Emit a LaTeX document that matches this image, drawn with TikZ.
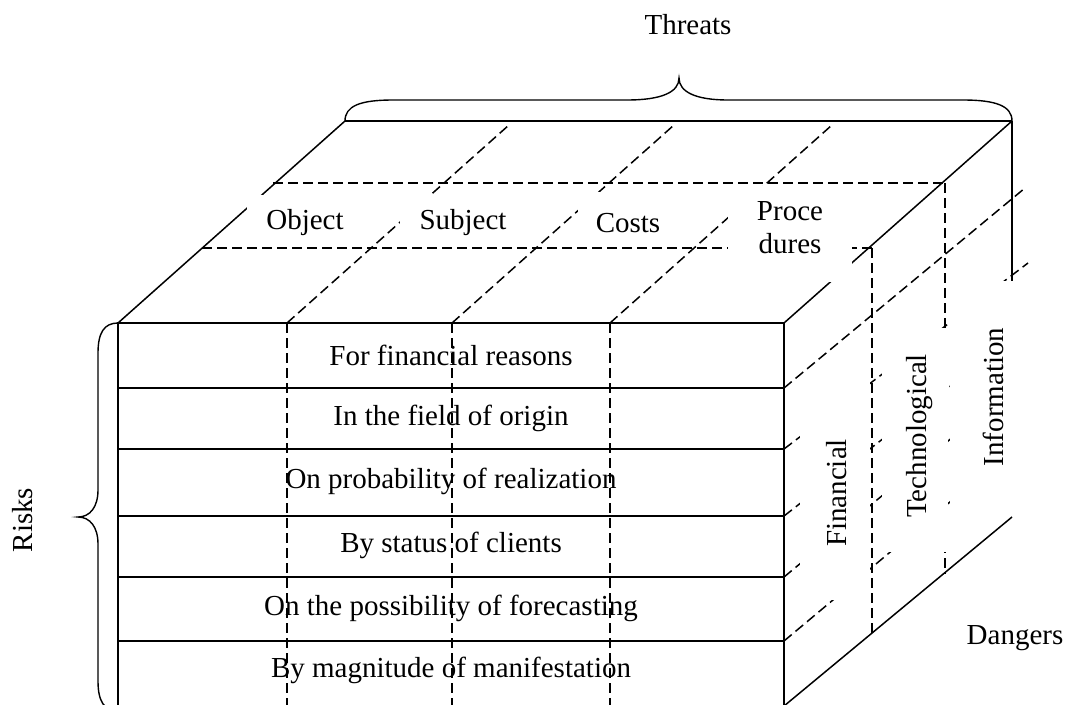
\documentclass[tikz,border=0pt]{standalone}
\usepackage{fontspec}
\setmainfont{Liberation Serif}
\begin{document}
\begin{tikzpicture}[x=1pt,y=-1pt,
  edgeline/.style={line width=1.5pt, line join=miter},
  dashline/.style={line width=1.5pt, dash pattern=on 10pt off 5pt},
  bracepath/.style={line width=1.4pt},
  lbl/.style={font=\fontsize{29}{33}\selectfont, inner sep=0pt, align=center},
  mask/.style={fill=white, draw=none}]
\useasboundingbox (0,0) rectangle (1067,704);
\clip (0,0) rectangle (1067,704);

% corners of the block
\coordinate (FTL) at (118,323);
\coordinate (FTR) at (784,323);
\coordinate (FBL) at (118,712);
\coordinate (FBR) at (784,712);
\coordinate (FBRd) at (784,706);
\coordinate (BTL) at (345,121);
\coordinate (BTR) at (1012,121);
\coordinate (BBR) at (1012,517);

% ---------- lines that are partly hidden by the text boxes ----------
\draw[edgeline] (FTL) -- (BTL);
\draw[edgeline] (FTR) -- (BTR);
% top face: depth lines
\draw[dashline] (287,323) -- (509,125);
\draw[dashline] (452,323) -- (674,125);
\draw[dashline] (610,323) -- (832,125);
% top face: cross lines
\draw[dashline] (202,248) -- (872,248);
\draw[dashline] (273,183) -- (945,183);
% right face: depth lines
\draw[dashline] (784,388) -- (1025,188);
\draw[dashline] (784,449) -- (1028,263);
\draw[dashline] (784,516) -- (1012,338);
\draw[dashline] (784,577) -- (1012,388);
\draw[dashline] (784,641) -- (1012,450);
% right face: vertical lines
\draw[dashline] (945,183) -- (945,574);
\draw[edgeline] (BTR) -- (BBR);

% ---------- white text boxes ----------
\fill[mask] (247,195) rectangle (352,240);
\fill[mask] (400,194) rectangle (515,240);
\fill[mask] (578,192) rectangle (670,240);
\fill[mask] (728,186) rectangle (852,282);
\fill[mask] (800,380) rectangle (870,600);
\fill[mask] (882,328) rectangle (948,552);
\fill[mask] (950,281) rectangle (1045,560);

% ---------- visible lines ----------
\draw[edgeline] (BTL) -- (BTR);
\draw[edgeline] (FBL) -- (FTL) -- (FTR) -- (FBR);
\draw[edgeline] (FBRd) -- (BBR);
\foreach \yy in {388,449,516,577,641}
  \draw[edgeline] (118,\yy) -- (784,\yy);
\foreach \xx in {287,452,610}
  \draw[dashline] (\xx,323) -- (\xx,712);
\draw[dashline] (872,248) -- (872,633);

% ---------- labels on the top face ----------
\node[lbl] (object) at (305,223) {Object};
\node[lbl] (subject) at (463,223) {Subject};
\node[lbl] (costs) at (628,223) {Costs};
\node[lbl] (proc) at (790,228) {Proce\\dures};

% ---------- labels on the front face ----------
\node[lbl] (r1) at (451,355) {For financial reasons};
\node[lbl] (r2) at (451,418) {In the field of origin};
\node[lbl] (r3) at (451,481) {On probability of realization};
\node[lbl] (r4) at (451,545) {By status of clients};
\node[lbl] (r5) at (451,608) {On the possibility of forecasting};
\node[lbl] (r6) at (451,670) {By magnitude of manifestation};

% ---------- labels on the right face ----------
\node[lbl, rotate=90] (fin) at (837,493) {Financial};
\node[lbl, rotate=90] (tech) at (920,436) {Technological};
\node[lbl, rotate=90] (info) at (993,397) {Information};

% ---------- braces and outer labels ----------
\draw[bracepath] (BTL) .. controls (345,106) and (360,100) .. (393,100)
  -- (627,100) .. controls (662,100) and (679,92) .. (679,78)
  .. controls (679,92) and (696,100) .. (728,100)
  -- (963,100) .. controls (996,100) and (1012,106) .. (BTR);
\draw[bracepath] (FTL) .. controls (104,323) and (98,333) .. (98,353)
  -- (98,490) .. controls (98,507) and (90,517) .. (78,517)
  .. controls (90,517) and (98,527) .. (98,544)
  -- (98,681) .. controls (98,701) and (104,711) .. (118,711);

\node[lbl] (threats) at (688,25) {Threats};
\node[lbl, rotate=90] (risks) at (23,520) {Risks};
\node[lbl] (dangers) at (1015,638) {Dangers};
\end{tikzpicture}
\end{document}
